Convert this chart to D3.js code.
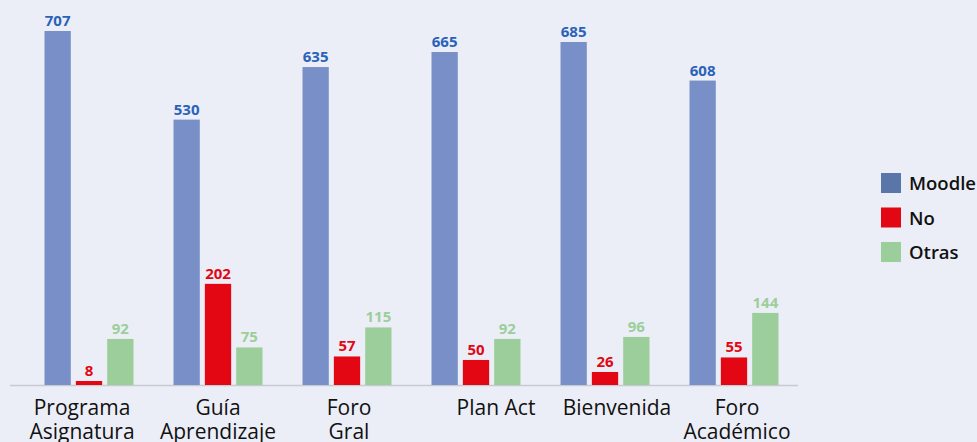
<!DOCTYPE html>
<html>
<head>
<meta charset="utf-8">
<script src="https://cdn.jsdelivr.net/npm/d3@7"></script>
<style>
  body { margin: 0; background: #ECEEF7; }
  svg { display: block; font-family: "Open Sans", sans-serif; }
</style>
</head>
<body>
<div id="chart"></div>
<script>
// data
var categories = [["Programa", "Asignatura"], ["Guía", "Aprendizaje"], ["Foro", "Gral"], ["Plan Act"], ["Bienvenida"], ["Foro", "Académico"]]
var seriesNames = ["Moodle", "No", "Otras"]
var moodle = [707, 530, 635, 665, 685, 608]
var no     = [8, 202, 57, 50, 26, 55]
var otras  = [92, 75, 115, 92, 96, 144]

var barColors    = ["#788FC8", "#E30613", "#9BCE9A"]
var labelColors  = ["#2A62B8", "#E30613", "#9BCE9A"]
var legendColors = ["#5A76A9", "#E30613", "#9BCE9A"]
// the category labels in the source sit a little off their group centres
var labelShift = [-7, 0, 2, 20, 12, 3]

var svgWidth = 977, svgHeight = 442
var baseY = 385

var svg = d3.select("#chart").append("svg")
  .attr("width", svgWidth)
  .attr("height", svgHeight)

svg.append("rect").attr("width", svgWidth).attr("height", svgHeight).attr("fill", "#ECEEF7")

var x = d3.scaleBand()
  .domain(d3.range(categories.length))
  .range([24.5, 798.5])

var xs = d3.scaleBand()
  .domain(seriesNames)
  .range([x.bandwidth() / 2 - 44.5, x.bandwidth() / 2 + 44.5])
  .paddingInner(5 / 31)

var y = d3.scaleLinear()
  .domain([0, 707])
  .range([baseY, 31])

var series = [moodle, no, otras]

// axis line
svg.append("line")
  .attr("x1", 10).attr("x2", 798)
  .attr("y1", baseY + 0.5).attr("y2", baseY + 0.5)
  .attr("stroke", "#C8CAD2")
  .attr("stroke-width", 1.5)

series.forEach(function(vals, si) {
  var name = seriesNames[si]
  var g = svg.append("g")
  g.selectAll("rect")
    .data(vals)
    .enter()
    .append("rect")
    .attr("x", function(d, i) { return x(i) + xs(name) })
    .attr("y", function(d) { return y(d) })
    .attr("width", xs.bandwidth())
    .attr("height", function(d) { return baseY - y(d) })
    .attr("fill", barColors[si])

  g.selectAll("text")
    .data(vals)
    .enter()
    .append("text")
    .attr("x", function(d, i) { return x(i) + xs(name) + xs.bandwidth() / 2 })
    .attr("y", function(d) { return y(d) - 5 })
    .attr("text-anchor", "middle")
    .attr("font-size", 15)
    .attr("font-weight", "bold")
    .attr("fill", labelColors[si])
    .text(function(d) { return d })
})

// category labels
var cat = svg.append("g").selectAll("text")
  .data(categories)
  .enter()
  .append("text")
  .attr("x", function(d, i) { return x(i) + x.bandwidth() / 2 + labelShift[i] })
  .attr("y", 415)
  .attr("text-anchor", "middle")
  .attr("font-size", 21)
  .attr("font-weight", 500)
  .attr("fill", "#111")

cat.selectAll("tspan")
  .data(function(d) { return d })
  .enter()
  .append("tspan")
  .attr("x", function() { return d3.select(this.parentNode).attr("x") })
  .attr("dy", function(d, i) { return i === 0 ? 0 : 24 })
  .text(function(d) { return d })

// legend
var legend = svg.append("g").selectAll("g")
  .data(seriesNames)
  .enter()
  .append("g")
  .attr("transform", function(d, i) { return "translate(881," + (173 + i * 34.5) + ")" })

legend.append("rect")
  .attr("width", 20).attr("height", 20)
  .attr("fill", function(d, i) { return legendColors[i] })

legend.append("text")
  .attr("x", 28).attr("y", 17)
  .attr("font-size", 18.5)
  .attr("font-weight", 600)
  .attr("fill", "#111")
  .text(function(d) { return d })
</script>
</body>
</html>
